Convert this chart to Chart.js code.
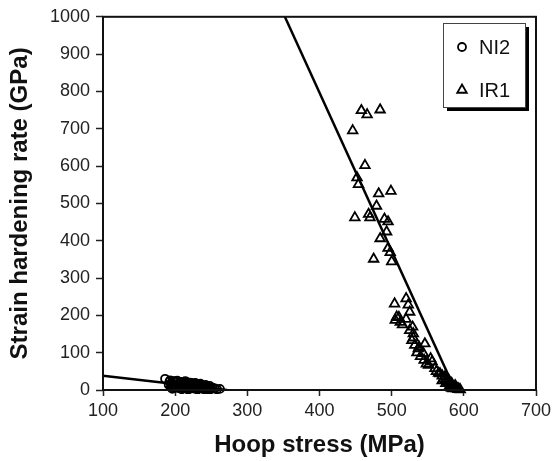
<!DOCTYPE html>
<html>
<head>
<meta charset="utf-8">
<script src="https://cdn.jsdelivr.net/npm/chart.js@4/dist/chart.umd.min.js"></script>
<style>
  html, body { margin: 0; padding: 0; background: #fff; }
  #wrap { width: 556px; height: 461px; position: relative; }
</style>
</head>
<body>
<div id="wrap"><canvas id="c" width="556" height="461"></canvas></div>
<script>
// ---- data (Hoop stress MPa, Strain hardening rate GPa) ----
const xTicks = [100, 200, 300, 400, 500, 600, 700];
const yTicks = [0, 100, 200, 300, 400, 500, 600, 700, 800, 900, 1000];

const ni2Stress = [186, 192, 195, 198, 200, 202, 205, 207, 208, 210, 212, 213, 215, 217, 218, 220, 222, 223, 225, 227, 228, 230, 232, 233, 235, 237, 238, 240, 242, 243, 245, 247, 250, 252, 255, 258, 262, 198, 205, 212, 220, 230, 240, 195, 203, 215, 226, 236,
                   191, 194, 197, 199, 201, 204, 206, 209, 211, 214, 216, 219, 221, 224, 226, 229, 231, 234, 236, 239, 241, 244, 246, 249, 193, 200, 207, 214, 221, 228, 235, 242, 248, 196, 209, 218, 231, 244];
const ni2Rate   = [30, 22, 18, 24, 14, 20, 17, 12, 22, 15, 19, 10, 16, 13, 20, 8, 14, 18, 11, 6, 15, 12, 9, 16, 7, 12, 4, 10, 6, 3, 8, 5, 3, 6, 4, 2, 3, 10, 8, 5, 3, 4, 2, 12, 25, 22, 18, 14,
                   14, 8, 12, 6, 9, 5, 11, 7, 4, 8, 5, 10, 6, 9, 4, 7, 3, 10, 5, 6, 3, 11, 4, 2, 26, 24, 21, 24, 20, 19, 17, 14, 11, 3, 2, 1, 1, 1];

const ir1Stress = [458, 466, 484, 446, 463, 452, 454, 482, 499, 479, 449, 468, 470, 490, 495, 493, 484, 495, 498, 475, 500, 504, 520, 523, 525, 507, 512, 505, 529, 530, 528, 532, 537, 546, 544, 554, 556, 551, 560, 567, 574, 579, 583, 588, 590, 585, 593, 535, 540, 545, 548, 538, 530, 525, 520, 515, 510, 562, 565, 570, 572, 575, 577, 580, 582, 584, 586, 588, 590, 592, 580, 575, 570, 583, 595];
const ir1Rate   = [749, 738, 751, 695, 602, 569, 551, 526, 533, 493, 462, 471, 462, 458, 451, 424, 406, 380, 369, 351, 344, 231, 245, 228, 209, 196, 182, 187, 169, 151, 133, 120, 111, 124, 98, 84, 76, 67, 58, 44, 36, 27, 18, 12, 6, 4, 3, 100, 90, 80, 70, 115, 140, 160, 190, 175, 195, 50, 45, 38, 30, 28, 22, 20, 15, 12, 8, 6, 4, 2, 10, 18, 25, 5, 1];

const ni2FitX = [100, 272];
const ni2FitY = [38, 0];
const ir1FitX = [352, 588];
const ir1FitY = [1000, 0];

const seriesNames = ['NI2', 'IR1'];

function pts(xs, ys) { return xs.map((x, i) => ({ x: x, y: ys[i] })); }

const FONT = '"Liberation Sans", Arial, Helvetica, sans-serif';

const framePlugin = {
  id: 'frame',
  afterDatasetsDraw(chart) {
    const { ctx, chartArea: a } = chart;
    ctx.save();
    ctx.strokeStyle = '#111';
    ctx.lineWidth = 2;
    ctx.strokeRect(a.left, a.top, a.right - a.left, a.bottom - a.top);
    ctx.restore();
  },
  afterDraw(chart) {
    const ctx = chart.ctx;
    const bx = 443, by = 23, bw = 82, bh = 84;
    ctx.save();
    ctx.fillStyle = '#000';
    ctx.fillRect(bx + 4, by + 4, bw, bh);
    ctx.fillStyle = '#fff';
    ctx.fillRect(bx, by, bw, bh);
    ctx.strokeStyle = '#444';
    ctx.lineWidth = 1;
    ctx.strokeRect(bx + 0.5, by + 0.5, bw, bh);
    const entries = [
      { style: 'circle', r: 4, y: 47, name: seriesNames[0] },
      { style: 'triangle', r: 5.5, y: 90, name: seriesNames[1] }
    ];
    entries.forEach(e => {
      ctx.strokeStyle = '#000';
      ctx.fillStyle = '#fff';
      ctx.lineWidth = 1.8;
      Chart.helpers.drawPoint(ctx, { pointStyle: e.style, radius: e.r, borderWidth: 1.8 }, 462, e.y);
      ctx.fillStyle = '#111';
      ctx.font = '20px ' + FONT;
      ctx.textBaseline = 'middle';
      ctx.textAlign = 'left';
      ctx.fillText(e.name, 479, e.y + 1);
    });
    ctx.restore();
  }
};

new Chart(document.getElementById('c'), {
  type: 'scatter',
  data: {
    datasets: [
      {
        label: seriesNames[0],
        data: pts(ni2Stress, ni2Rate),
        pointStyle: 'circle',
        pointRadius: 4,
        borderColor: '#000',
        backgroundColor: 'rgba(0,0,0,0)',
        borderWidth: 1.8,
        clip: 4
      },
      {
        label: seriesNames[1],
        data: pts(ir1Stress, ir1Rate),
        pointStyle: 'triangle',
        pointRadius: 5.5,
        borderColor: '#000',
        backgroundColor: 'rgba(0,0,0,0)',
        borderWidth: 1.8,
        clip: 4
      },
      {
        label: 'NI2 fit',
        type: 'line',
        data: pts(ni2FitX, ni2FitY),
        borderColor: '#000',
        borderWidth: 2.5,
        pointRadius: 0,
        fill: false
      },
      {
        label: 'IR1 fit',
        type: 'line',
        data: pts(ir1FitX, ir1FitY),
        borderColor: '#000',
        borderWidth: 2.5,
        pointRadius: 0,
        fill: false
      }
    ]
  },
  options: {
    responsive: false,
    animation: false,
    layout: { padding: { left: 0, right: 20, top: 15, bottom: 0 } },
    plugins: {
      legend: { display: false },
      tooltip: { enabled: false }
    },
    scales: {
      x: {
        type: 'linear',
        min: 100,
        max: 700,
        afterBuildTicks(s) { s.ticks = xTicks.map(v => ({ value: v })); },
        afterFit(s) { s.height = 71; },
        grid: { drawOnChartArea: false, drawTicks: true, tickLength: 6, color: '#222', tickWidth: 1.5 },
        border: { display: false },
        ticks: { color: '#222', font: { family: FONT, size: 18 }, padding: 4, maxRotation: 0, callback: v => String(v) },
        title: {
          display: true,
          text: 'Hoop stress (MPa)',
          color: '#111',
          font: { family: FONT, size: 24, weight: 'bold', lineHeight: 1 },
          padding: { top: 0, bottom: 4 }
        }
      },
      y: {
        type: 'linear',
        min: 0,
        max: 1000,
        afterBuildTicks(s) { s.ticks = yTicks.map(v => ({ value: v })); },
        afterFit(s) { s.width = 103; },
        grid: { drawOnChartArea: false, drawTicks: true, tickLength: 7, color: '#222', tickWidth: 1.5 },
        border: { display: false },
        ticks: { color: '#222', font: { family: FONT, size: 18 }, padding: 6, callback: v => String(v) },
        title: {
          display: true,
          text: 'Strain hardening rate (GPa)',
          color: '#111',
          font: { family: FONT, size: 24, weight: 'bold', lineHeight: 1 },
          padding: { top: 8, bottom: 0 }
        }
      }
    }
  },
  plugins: [framePlugin]
});
</script>
</body>
</html>
